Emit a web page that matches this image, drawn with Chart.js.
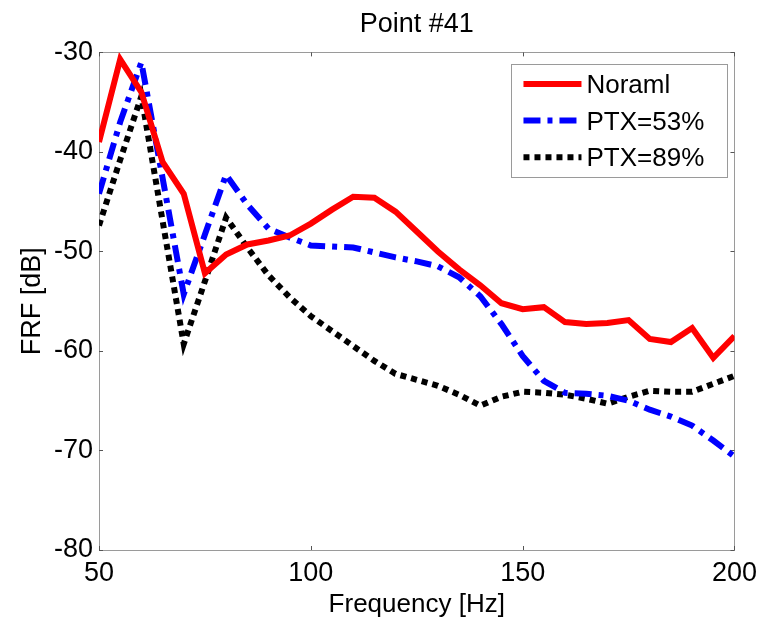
<!DOCTYPE html>
<html><head><meta charset="utf-8">
<script src="https://cdn.jsdelivr.net/npm/chart.js@4.4.0/dist/chart.umd.min.js"></script>
<style>html,body{margin:0;padding:0;background:#fff}#wrap{width:764px;height:627px}</style>
</head><body><div id="wrap"><canvas id="c" width="764" height="627"></canvas></div>
<script>
// ---- data ----
const frequencies = [50,55,60,65,70,75,80,85,90,95,100,105,110,115,120,125,130,135,140,145,150,155,160,165,170,175,180,185,190,195,200];
const normal = [-39.0,-30.7,-34.0,-41.0,-44.2,-52.2,-50.3,-49.3,-48.9,-48.4,-47.2,-45.8,-44.5,-44.6,-46.0,-48.0,-50.0,-51.8,-53.4,-55.2,-55.8,-55.6,-57.1,-57.3,-57.2,-56.9,-58.8,-59.1,-57.7,-60.7,-58.5];
const ptx53 = [-44.2,-37.0,-31.0,-42.6,-54.3,-48.3,-42.3,-45.3,-47.7,-48.6,-49.4,-49.5,-49.6,-50.1,-50.6,-51.0,-51.5,-52.6,-54.5,-57.3,-60.5,-63.0,-64.2,-64.3,-64.5,-65.0,-65.9,-66.6,-67.5,-69.0,-70.6];
const ptx89 = [-47.4,-40.8,-34.4,-46.9,-59.3,-53.0,-46.6,-49.6,-52.4,-54.6,-56.5,-58.0,-59.5,-61.0,-62.3,-62.9,-63.5,-64.4,-65.5,-64.6,-64.1,-64.2,-64.4,-64.8,-65.3,-64.6,-64.0,-64.1,-64.1,-63.3,-62.5];
const seriesNames = ['Noraml','PTX=53%','PTX=89%'];
const xTicks = [50,100,150,200];
const yTicks = [-80,-70,-60,-50,-40,-30];
const chartTitle = 'Point #41';
const xTitle = 'Frequency [Hz]';
const yTitle = 'FRF [dB]';

const FONT = "'Liberation Sans', Arial, sans-serif";
const toPoints = vals => frequencies.map((f,i)=>({x:f,y:vals[i]}));

const boxAndTicks = {
  id:'boxAndTicks',
  beforeDatasetsDraw(chart){
    const {ctx, chartArea:a, scales:{x,y}} = chart;
    ctx.save();
    ctx.strokeStyle = '#9a9a9a';
    ctx.lineWidth = 1;
    ctx.strokeRect(Math.round(a.left)+0.5, Math.round(a.top)+0.5, Math.round(a.right-a.left), Math.round(a.bottom-a.top));
    ctx.strokeStyle = '#555';
    ctx.beginPath();
    x.ticks.forEach(t=>{
      const px = Math.round(x.getPixelForValue(t.value))+0.5;
      ctx.moveTo(px, a.bottom); ctx.lineTo(px, a.bottom-4);
      ctx.moveTo(px, a.top); ctx.lineTo(px, a.top+4);
    });
    y.ticks.forEach(t=>{
      const py = Math.round(y.getPixelForValue(t.value))+0.5;
      ctx.moveTo(a.left, py); ctx.lineTo(a.left+4, py);
      ctx.moveTo(a.right, py); ctx.lineTo(a.right-4, py);
    });
    ctx.stroke();
    ctx.restore();
  }
};

const insideLegend = {
  id:'insideLegend',
  afterDatasetsDraw(chart){
    const {ctx, chartArea:a} = chart;
    const right = a.right - 7, top = a.top + 11.5;
    const left = right - 216, bottom = top + 113;
    ctx.save();
    ctx.fillStyle = '#fff';
    ctx.fillRect(left, top, right-left, bottom-top);
    ctx.strokeStyle = '#9a9a9a';
    ctx.lineWidth = 1;
    ctx.strokeRect(Math.round(left)+0.5, Math.round(top)+0.5, Math.round(right-left), Math.round(bottom-top));
    chart.data.datasets.forEach((ds,i)=>{
      const yy = top + 20 + i*36.7;
      ctx.strokeStyle = ds.borderColor;
      ctx.lineWidth = ds.borderWidth;
      ctx.lineCap = 'butt';
      ctx.setLineDash(ds.borderDash || []);
      ctx.beginPath();
      ctx.moveTo(left+12, yy); ctx.lineTo(left+70, yy);
      ctx.stroke();
      ctx.setLineDash([]);
      ctx.fillStyle = '#000';
      ctx.font = '26px ' + FONT;
      ctx.textBaseline = 'middle';
      ctx.textAlign = 'left';
      ctx.fillText(ds.label, left+75, yy+2);
    });
    ctx.restore();
  }
};

new Chart(document.getElementById('c'), {
  type:'line',
  data:{
    datasets:[
      {label:seriesNames[0], data:toPoints(normal), borderColor:'#ff0000', borderWidth:6, pointRadius:0, tension:0, borderCapStyle:'butt'},
      {label:seriesNames[1], data:toPoints(ptx53), borderColor:'#0000ff', borderWidth:6, borderDash:[17,7,5,7], pointRadius:0, tension:0, borderCapStyle:'butt'},
      {label:seriesNames[2], data:toPoints(ptx89), borderColor:'#000000', borderWidth:6, borderDash:[6,5], pointRadius:0, tension:0, borderCapStyle:'butt'}
    ]
  },
  options:{
    responsive:false,
    animation:false,
    devicePixelRatio:1,
    layout:{padding:{left:0, right:29, top:0, bottom:0}},
    plugins:{
      legend:{display:false},
      tooltip:{enabled:false},
      title:{display:true, text:chartTitle, color:'#000', fullSize:false,
        font:{family:FONT, size:27, weight:'normal'}, padding:{top:8, bottom:12}}
    },
    scales:{
      x:{type:'linear', min:50, max:200,
        afterBuildTicks:s=>{ s.ticks = xTicks.map(v=>({value:v})); },
        afterFit:s=>{ s.height = 77; },
        grid:{display:false, drawTicks:false}, border:{display:false},
        ticks:{color:'#000', font:{family:FONT, size:27}, padding:7, maxRotation:0, autoSkip:false},
        title:{display:true, text:xTitle, color:'#000', font:{family:FONT, size:26}, padding:{top:0, bottom:7}}
      },
      y:{type:'linear', min:-80, max:-30,
        afterBuildTicks:s=>{ s.ticks = yTicks.map(v=>({value:v})); },
        afterFit:s=>{ s.width = 99; },
        grid:{display:false, drawTicks:false}, border:{display:false},
        ticks:{color:'#000', font:{family:FONT, size:27}, padding:6, autoSkip:false},
        title:{display:true, text:yTitle, color:'#000', font:{family:FONT, size:27}, padding:{top:16, bottom:0}}
      }
    }
  },
  plugins:[boxAndTicks, insideLegend]
});
</script>
</body></html>
